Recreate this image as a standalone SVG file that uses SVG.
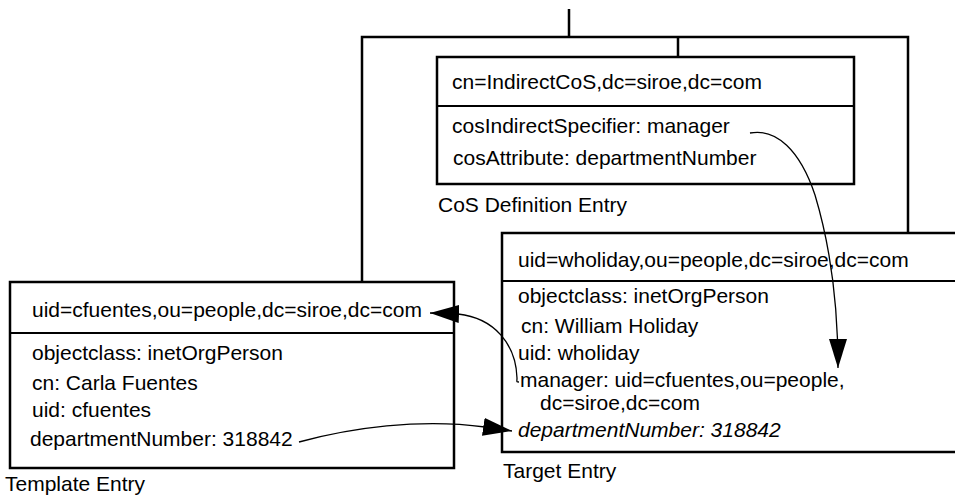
<svg xmlns="http://www.w3.org/2000/svg" width="955" height="497" viewBox="0 0 955 497">
<defs>
<marker id="ah" markerUnits="userSpaceOnUse" markerWidth="29" markerHeight="18" viewBox="0 0 29 18" refX="29" refY="9" orient="auto">
<path d="M0,0 L29,9 L0,18 Z" fill="#000"/>
</marker>
</defs>
<style>
.box{fill:#fff;stroke:#000;stroke-width:2.5}
.div{stroke:#000;stroke-width:2}
.tree{fill:none;stroke:#000;stroke-width:2.5}
.t{font-family:"Liberation Sans",Arial,Helvetica,sans-serif;font-size:21px;fill:#000}
.i{font-style:italic}
.c{fill:none;stroke:#000;stroke-width:1.3}
</style>
<g id="tree" class="tree">
<path d="M569 9 V37 M362 282 V37 H908 V233 M678 37 V57"/>
</g>
<g id="cos-definition">
<rect class="box" x="437" y="57" width="417" height="127"/>
<line class="div" x1="437" y1="106" x2="854" y2="106"/>
<text class="t" x="452" y="89">cn=IndirectCoS,dc=siroe,dc=com</text>
<text class="t" x="452" y="133">cosIndirectSpecifier: manager</text>
<text class="t" x="453" y="165">cosAttribute: departmentNumber</text>
<text class="t" x="438" y="212">CoS Definition Entry</text>
</g>
<g id="target-entry">
<rect class="box" x="502" y="233" width="470" height="219"/>
<line class="div" x1="502" y1="281" x2="960" y2="281"/>
<text class="t" x="518" y="267">uid=wholiday,ou=people,dc=siroe,dc=com</text>
<text class="t" x="518" y="303">objectclass: inetOrgPerson</text>
<text class="t" x="521" y="333">cn: William Holiday</text>
<text class="t" x="518" y="360">uid: wholiday</text>
<text class="t" x="520" y="387">manager: uid=cfuentes,ou=people,</text>
<text class="t" x="540" y="410">dc=siroe,dc=com</text>
<text class="t i" x="518" y="437">departmentNumber: 318842</text>
<text class="t" x="503" y="478">Target Entry</text>
</g>
<g id="template-entry">
<rect class="box" x="10" y="282" width="444" height="186"/>
<line class="div" x1="10" y1="333" x2="454" y2="333"/>
<text class="t" x="32" y="317">uid=cfuentes,ou=people,dc=siroe,dc=com</text>
<text class="t" x="32" y="360">objectclass: inetOrgPerson</text>
<text class="t" x="32" y="390">cn: Carla Fuentes</text>
<text class="t" x="32" y="417">uid: cfuentes</text>
<text class="t" x="30" y="446">departmentNumber: 318842</text>
<text class="t" x="5" y="491">Template Entry</text>
</g>
<g id="connectors">
<path class="c" marker-end="url(#ah)" d="M750 133 C776 128 800 150 815 195 C830 245 838 300 838 368"/>
<path class="c" marker-end="url(#ah)" d="M519 382 C516 382 517 382 517 378 C516 345 495 318 458 314 L430 313"/>
<path class="c" marker-end="url(#ah)" d="M299 442 C350 428 420 418 485 427 L512 431"/>
</g>
</svg>
